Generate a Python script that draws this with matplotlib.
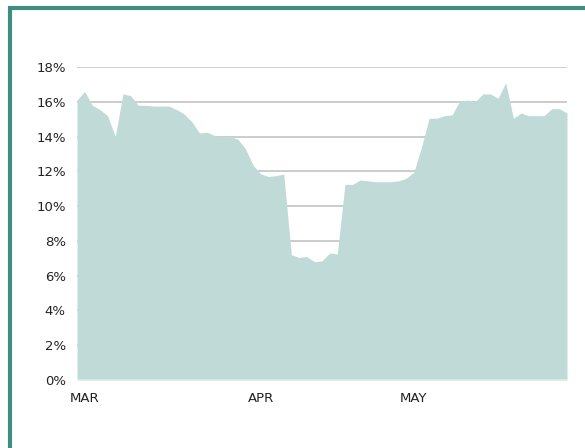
import matplotlib
matplotlib.use("Agg")
import matplotlib.pyplot as plt
from matplotlib.lines import Line2D
import numpy as np

# daily share values (%)
values = [16.1, 16.6, 15.8, 15.55, 15.2, 14.0, 16.45, 16.35, 15.8, 15.8,
          15.75, 15.75, 15.75, 15.55, 15.3, 14.85, 14.2, 14.25, 14.05, 14.0,
          14.0, 13.85, 13.3, 12.35, 11.85, 11.7, 11.75, 11.85, 7.2, 7.05,
          7.1, 6.8, 6.85, 7.3, 7.25, 11.25, 11.25, 11.5, 11.45, 11.4,
          11.4, 11.4, 11.45, 11.6, 11.95, 13.4, 15.05, 15.05, 15.2, 15.25,
          16.05, 16.1, 16.0, 16.45, 16.45, 16.2, 17.1, 15.05, 15.35, 15.2,
          15.2, 15.2, 15.6, 15.6, 15.35]
month_labels = ["MAR", "APR", "MAY"]
month_pos = [1, 24, 44]
y_ticks = [0, 2, 4, 6, 8, 10, 12, 14, 16, 18]

x = np.arange(len(values))

fig = plt.figure(figsize=(5.85, 4.48), dpi=100)
ax = fig.add_axes([0.1316, 0.1518, 0.8376, 0.6987])

# grid lines drawn by hand so the area sits on top of them
for t in y_ticks[1:]:
    ax.axhline(t, color="#c8c8c8", linewidth=1.3, zorder=1)

ax.fill_between(x, values, 0, color="#c0dbd7", linewidth=0, zorder=2)
ax.axhline(0, color="#d4f0ec", linewidth=1.2, zorder=3)

ax.set_xlim(0, len(values) - 1)
ax.set_ylim(0, 18)
ax.set_yticks(y_ticks)
ax.set_yticklabels([f"{t}%" for t in y_ticks])
ax.set_xticks(month_pos)
ax.set_xticklabels(month_labels)
ax.tick_params(axis="both", length=0, labelsize=9.5, colors="#222222")
ax.tick_params(axis="y", pad=8)
ax.tick_params(axis="x", pad=9)
for s in ax.spines.values():
    s.set_visible(False)

# teal frame on top and left
frame = "#3f8d7f"
fig.add_artist(Line2D([8/585, 1.0], [1 - 8/448, 1 - 8/448], color=frame,
                      linewidth=3, transform=fig.transFigure, solid_capstyle="butt"))
fig.add_artist(Line2D([10/585, 10/585], [0, 1 - 6/448], color=frame,
                      linewidth=3, transform=fig.transFigure, solid_capstyle="butt"))

fig.savefig("out.png", dpi=100)
